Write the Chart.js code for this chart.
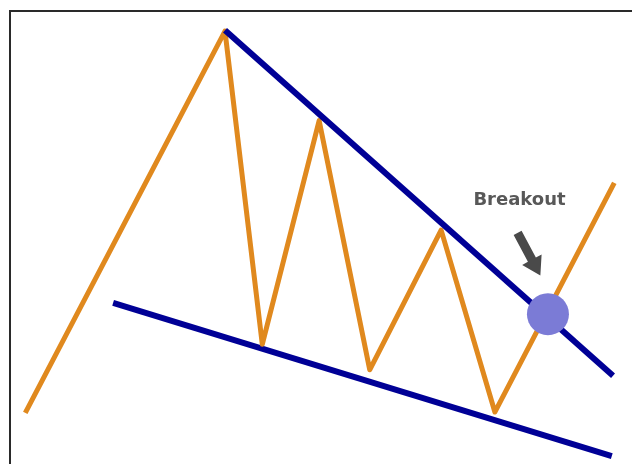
<!DOCTYPE html>
<html>
<head>
<meta charset="utf-8">
<script src="https://cdn.jsdelivr.net/npm/chart.js@4"></script>
<style>
    html, body { margin: 0; padding: 0; background: #fff; }
    #wrap { width: 632px; height: 464px; position: relative; }
</style>
</head>
<body>
<div id="wrap"><canvas id="wedgeChart"></canvas></div>
<script>
// price path (falling wedge), x = day, y = price
var days = [4, 35.6, 41.5, 50.5, 58.5, 69.8, 78.3, 97.2];
var prices = [11, 93.3, 25.8, 74, 20.3, 50.4, 11.2, 60.6];

// resistance / support trend lines
var upperDays = [35.6, 97];
var upperPrices = [93.5, 19];
var lowerDays = [17.9, 96.8];
var lowerPrices = [34.7, 1.7];

// breakout point and its label
var breakoutDay = [86.7];
var breakoutPrice = [32.3];
var labelText = "Breakout";
var labelDay = 82.2;
var labelPrice = 56.9;
var arrowFrom = [81.9, 49.8];
var arrowTo = [85.5, 40.6];

function toPoints(xs, ys) {
    return xs.map(function (x, i) { return { x: x, y: ys[i] }; });
}

var annotate = {
    id: 'annotate',
    afterDatasetsDraw: function (chart) {
        var ctx = chart.ctx;
        var sx = chart.scales.x, sy = chart.scales.y;
        ctx.save();

        // frame
        ctx.strokeStyle = '#2a2a2a';
        ctx.lineWidth = 2;
        ctx.beginPath();
        ctx.moveTo(10, 464);
        ctx.lineTo(10, 11);
        ctx.lineTo(632, 11);
        ctx.stroke();

        // label
        ctx.fillStyle = '#585858';
        ctx.font = 'bold 18px "DejaVu Sans"';
        ctx.textAlign = 'center';
        ctx.textBaseline = 'middle';
        ctx.fillText(labelText, sx.getPixelForValue(labelDay), sy.getPixelForValue(labelPrice));

        // arrow
        var x0 = sx.getPixelForValue(arrowFrom[0]), y0 = sy.getPixelForValue(arrowFrom[1]);
        var x1 = sx.getPixelForValue(arrowTo[0]), y1 = sy.getPixelForValue(arrowTo[1]);
        var ang = Math.atan2(y1 - y0, x1 - x0);
        var len = Math.hypot(x1 - x0, y1 - y0);
        ctx.translate(x0, y0);
        ctx.rotate(ang);
        ctx.fillStyle = '#4a4a4a';
        ctx.beginPath();
        ctx.moveTo(0, -4.5);
        ctx.lineTo(len - 18, -4.5);
        ctx.lineTo(len - 18, -11);
        ctx.lineTo(len, 0);
        ctx.lineTo(len - 18, 11);
        ctx.lineTo(len - 18, 4.5);
        ctx.lineTo(0, 4.5);
        ctx.closePath();
        ctx.fill();

        ctx.restore();
    }
};

var ctx = document.getElementById("wedgeChart").getContext('2d');
var wedgeChart = new Chart(ctx, {
    type: 'scatter',
    data: {
        datasets: [{
            label: 'Breakout',
            data: toPoints(breakoutDay, breakoutPrice),
            backgroundColor: 'rgb(123, 123, 214)',
            borderWidth: 0,
            pointRadius: 21,
            order: 0
        }, {
            label: 'Resistance',
            data: toPoints(upperDays, upperPrices),
            showLine: true,
            borderColor: '#000096',
            borderWidth: 6,
            pointRadius: 0,
            order: 1
        }, {
            label: 'Price',
            data: toPoints(days, prices),
            showLine: true,
            borderColor: '#e0891e',
            borderWidth: 5,
            borderJoinStyle: 'round',
            pointRadius: 0,
            order: 2
        }, {
            label: 'Support',
            data: toPoints(lowerDays, lowerPrices),
            showLine: true,
            borderColor: '#000096',
            borderWidth: 6,
            pointRadius: 0,
            order: 3
        }]
    },
    options: {
        responsive: true,
        maintainAspectRatio: false,
        animation: false,
        layout: { padding: 0, autoPadding: false },
        plugins: {
            legend: { display: false },
            tooltip: { enabled: false }
        },
        scales: {
            x: { type: 'linear', min: 0, max: 100, display: false },
            y: { type: 'linear', min: 0, max: 100, display: false }
        }
    },
    plugins: [annotate]
});
</script>
</body>
</html>
